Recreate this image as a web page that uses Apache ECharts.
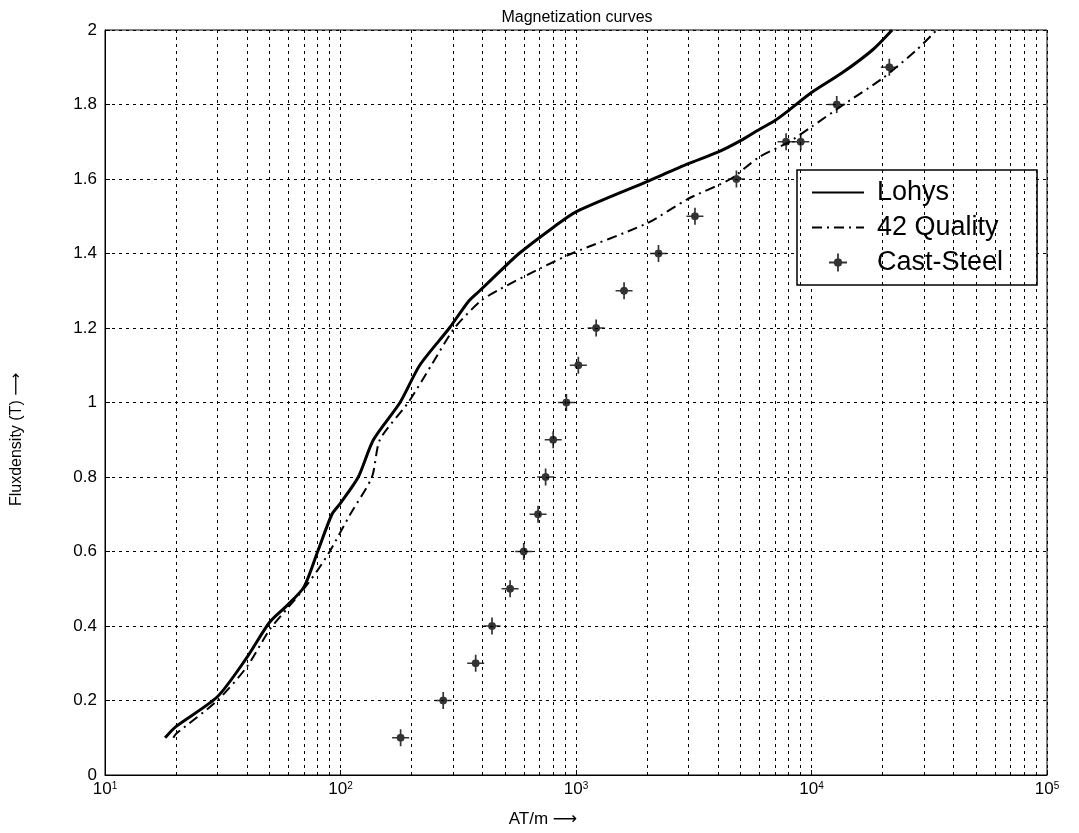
<!DOCTYPE html>
<html>
<head>
<meta charset="utf-8">
<script src="https://cdn.jsdelivr.net/npm/echarts@6/dist/echarts.min.js"></script>
<style>
html,body{margin:0;padding:0;background:#fff;}
#c{width:1079px;height:833px;}
</style>
</head>
<body>
<div id="c"></div>
<script>
// ---- data ----
var lohysH = [18, 20, 30, 40, 50, 60, 70, 80, 92, 100, 119, 138, 179, 217, 290, 350, 390, 475, 573, 800, 1000, 2000, 3000, 4000, 5000, 6000, 7000, 8000, 10000, 13500, 18200, 22000];
var lohysB = [0.10, 0.13, 0.21, 0.315, 0.41, 0.458, 0.505, 0.60, 0.70, 0.73, 0.80, 0.90, 1.00, 1.10, 1.20, 1.272, 1.30, 1.352, 1.40, 1.47, 1.512, 1.593, 1.641, 1.672, 1.703, 1.733, 1.757, 1.784, 1.832, 1.885, 1.947, 2.0];

var q42H = [19.5, 20, 30, 40, 50, 60, 70, 80, 90, 110, 136, 147, 194, 243, 305, 393, 475, 710, 960, 2000, 3000, 4530, 6000, 8000, 10000, 13700, 20000, 28000, 34000];
var q42B = [0.10, 0.11, 0.20, 0.29, 0.39, 0.45, 0.50, 0.55, 0.60, 0.70, 0.80, 0.90, 1.00, 1.10, 1.20, 1.272, 1.304, 1.361, 1.40, 1.481, 1.547, 1.60, 1.659, 1.699, 1.74, 1.80, 1.87, 1.947, 2.0];

var castH = [180, 273, 375, 440, 525, 600, 690, 743, 800, 910, 1023, 1218, 1600, 2240, 3200, 4800, 7800, 9000, 12800, 21400];
var castB = [0.1, 0.2, 0.3, 0.4, 0.5, 0.6, 0.7, 0.8, 0.9, 1.0, 1.1, 1.2, 1.3, 1.4, 1.5, 1.6, 1.7, 1.7, 1.8, 1.9];

var seriesNames = ['Lohys', '42 Quality', 'Cast-Steel'];
var minorGridH = [20, 30, 40, 50, 60, 70, 80, 90,
                  200, 300, 400, 500, 600, 700, 800, 900,
                  2000, 3000, 4000, 5000, 6000, 7000, 8000, 9000,
                  20000, 30000, 40000, 50000, 60000, 70000, 80000, 90000];

function zip(a, b) { return a.map(function (v, i) { return [v, b[i]]; }); }

var FONT = "'Liberation Sans', Arial, 'DejaVu Sans', sans-serif";
var dotted = [3, 4];
var starPath = 'path://M-0.9,-9 L0.9,-9 L0.9,-0.9 L9,-0.9 L9,0.9 L0.9,0.9 L0.9,9 L-0.9,9 L-0.9,0.9 L-9,0.9 L-9,-0.9 L-0.9,-0.9 Z M0,-4.5 L3.2,-3.2 L4.5,0 L3.2,3.2 L0,4.5 L-3.2,3.2 L-4.5,0 L-3.2,-3.2 Z';

var chart = echarts.init(document.getElementById('c'), null, {renderer: 'canvas'});
chart.setOption({
  animation: false,
  backgroundColor: '#fff',
  title: {
    text: 'Magnetization curves',
    left: 572, top: 5, textAlign: 'center',
    textStyle: {fontFamily: FONT, fontSize: 16, fontWeight: 'normal', color: '#000'}
  },
  grid: {
    left: 105, right: 32, top: 30, bottom: 56,
    show: true, borderColor: '#000', borderWidth: 1, backgroundColor: 'transparent'
  },
  legend: {
    data: [
      {name: seriesNames[0], itemStyle: {opacity: 0}},
      {name: seriesNames[1], itemStyle: {opacity: 0}},
      {name: seriesNames[2]}
    ],
    orient: 'vertical',
    left: 797, top: 170,
    padding: [9, 34, 9, 14],
    itemGap: 8,
    itemWidth: 52, itemHeight: 18,
    backgroundColor: '#fff',
    borderColor: '#000', borderWidth: 1.5, borderRadius: 0,
    textStyle: {fontFamily: FONT, fontSize: 27, color: '#000', padding: [0, 0, 0, 8]}
  },
  xAxis: {
    type: 'log', logBase: 10, min: 10, max: 100000,
    name: 'AT/m \u27F6', nameLocation: 'middle', nameGap: 36,
    nameTextStyle: {fontFamily: FONT, fontSize: 17, color: '#000', padding: [0, 66, 0, 0]},
    axisLine: {show: true, lineStyle: {color: '#000', width: 1}},
    axisTick: {show: true, inside: true, length: 5, lineStyle: {color: '#000'}},
    axisLabel: {
      margin: 6,
      formatter: function (v) {
        var e = Math.round(Math.log(v) / Math.LN10);
        return '{b|10}{s|' + e + '}';
      },
      rich: {
        b: {fontFamily: FONT, fontSize: 17, color: '#000'},
        s: {fontFamily: FONT, fontSize: 10, color: '#000', verticalAlign: 'top', padding: [0, 0, 7, 0]}
      }
    },
    splitLine: {show: true, lineStyle: {color: '#000', type: dotted, width: 1}}
  },
  yAxis: {
    type: 'value', min: 0, max: 2, interval: 0.2,
    name: 'Fluxdensity (T) \u27F6', nameLocation: 'middle', nameGap: 80,
    nameTextStyle: {fontFamily: FONT, fontSize: 16, color: '#000', padding: [0, 74, 0, 0]},
    axisLine: {show: true, lineStyle: {color: '#000', width: 1}},
    axisTick: {show: true, inside: true, length: 5, lineStyle: {color: '#000'}},
    axisLabel: {fontFamily: FONT, fontSize: 17, color: '#000', margin: 8},
    splitLine: {show: true, lineStyle: {color: '#000', type: dotted, width: 1}}
  },
  series: [
    {
      name: seriesNames[0], type: 'line', data: zip(lohysH, lohysB),
      symbol: 'none', smooth: 0.25, clip: true,
      lineStyle: {color: '#000', width: 3, type: 'solid'},
      itemStyle: {color: '#000'},
      z: 5,
      markLine: {
        silent: true, symbol: 'none', animation: false,
        label: {show: false},
        lineStyle: {color: '#000', type: dotted, width: 1},
        emphasis: {disabled: true},
        data: minorGridH.map(function (v) { return {xAxis: v}; })
      }
    },
    {
      name: seriesNames[1], type: 'line', data: zip(q42H, q42B),
      symbol: 'none', smooth: 0.25, clip: true,
      lineStyle: {color: '#000', width: 2, type: [10, 5, 2, 5]},
      itemStyle: {color: '#000'},
      z: 5
    },
    {
      name: seriesNames[2], type: 'scatter', data: zip(castH, castB),
      symbol: starPath, symbolSize: 17,
      itemStyle: {color: '#000'},
      z: 6
    }
  ]
});
</script>
</body>
</html>
